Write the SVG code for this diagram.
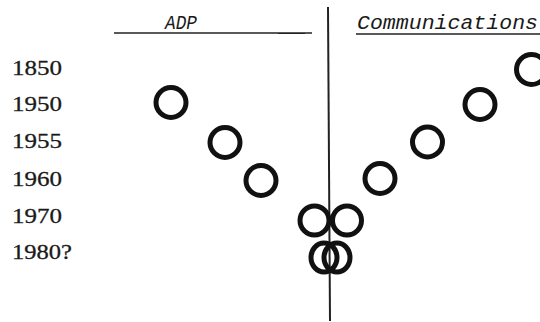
<svg xmlns="http://www.w3.org/2000/svg" width="540" height="322" viewBox="0 0 540 322">
<style>
.yr{font-family:"Liberation Serif","DejaVu Serif",serif;font-size:22px;fill:#1a1a1a;stroke:#1a1a1a;stroke-width:0.3}
.hd{font-family:"Liberation Mono","DejaVu Sans Mono",monospace;font-style:italic;font-size:20px;fill:#1a1a1a}
.c{fill:none;stroke:#111;stroke-width:5}
.ln{stroke:#222;fill:none}
</style>
<rect width="540" height="322" fill="#fff"/>
<g id="axis">
<line class="ln" x1="328" y1="7" x2="330" y2="321" stroke-width="2"/>
<line class="ln" x1="114" y1="33" x2="312" y2="33" stroke-width="1.3"/>
<line class="ln" x1="278" y1="33.5" x2="305" y2="33.5" stroke-width="1"/>
<line class="ln" x1="356" y1="34" x2="540" y2="34" stroke-width="1.3"/>
</g>
<g id="headers">
<text class="hd" x="165" y="28.5" textLength="32" lengthAdjust="spacingAndGlyphs">ADP</text>
<text class="hd" x="357" y="28.5" textLength="181" lengthAdjust="spacingAndGlyphs">Communications</text>
</g>
<g id="years">
<text class="yr" x="12" y="75" textLength="50" lengthAdjust="spacingAndGlyphs">1850</text>
<text class="yr" x="12" y="110.5" textLength="50" lengthAdjust="spacingAndGlyphs">1950</text>
<text class="yr" x="12" y="148" textLength="50" lengthAdjust="spacingAndGlyphs">1955</text>
<text class="yr" x="12" y="186" textLength="50" lengthAdjust="spacingAndGlyphs">1960</text>
<text class="yr" x="12" y="223" textLength="50" lengthAdjust="spacingAndGlyphs">1970</text>
<text class="yr" x="12" y="259" textLength="60" lengthAdjust="spacingAndGlyphs">1980?</text>
</g>
<g id="adp">
<circle class="c" cx="171" cy="102.5" r="15"/>
<circle class="c" cx="225" cy="142.5" r="15"/>
<circle class="c" cx="261" cy="180.5" r="15"/>
<circle class="c" cx="314.5" cy="220.5" r="14.5"/>
<ellipse class="c" cx="324" cy="257.5" rx="13" ry="14.5"/>
</g>
<g id="communications">
<circle class="c" cx="531.5" cy="69.5" r="15"/>
<circle class="c" cx="480" cy="104.5" r="15"/>
<circle class="c" cx="427.5" cy="142" r="15"/>
<circle class="c" cx="380" cy="178.5" r="15"/>
<circle class="c" cx="347" cy="220.5" r="14.5"/>
<ellipse class="c" cx="337" cy="257.5" rx="13" ry="14.5"/>
</g>
</svg>
